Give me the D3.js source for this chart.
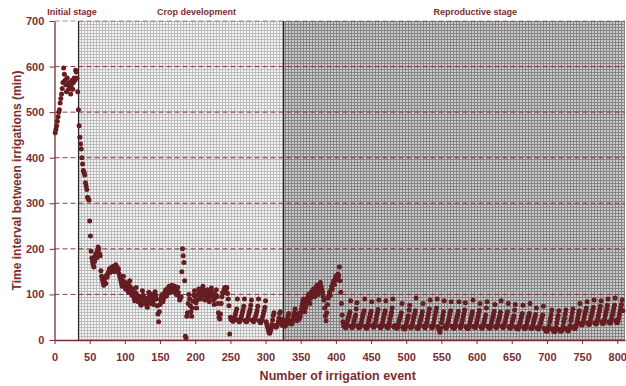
<!DOCTYPE html>
<html>
<head>
<meta charset="utf-8">
<script src="https://cdn.jsdelivr.net/npm/d3@7"></script>
<style>
  html, body { margin: 0; padding: 0; background: #fff; }
  svg { display: block; font-family: "Liberation Sans", Arial, sans-serif; }
</style>
</head>
<body>
<svg id="chart" width="626" height="386"></svg>
<script>
// Time interval between successive irrigation events (min), by crop stage.
const initialStage = [
  455, 462, 470, 480, 490, 500, 505, 520, 530, 540, 552, 565, 597, 583, 570, 560, 545,
  575, 560, 550, 565, 555, 540, 560, 570, 550, 565, 575, 570, 592, 588, 575, 545, 505
];

const cropDevelopment = [
  470, 445, 430, 419, 400, 386, 372, 368, 362, 345, 338, 330, 313, 310, 307,
  261, 228, 195, 180, 172, 165, 160, 172, 185, 190, 180, 196, 204, 200, 190, 185,
  152, 140, 133, 126, 120, 128, 136, 124, 142, 138,
  146, 150, 156, 148, 158, 152, 160, 155, 162, 150, 158, 165, 155, 160, 150, 156, 145,
  138, 132, 125, 118, 130, 140, 128, 120, 112,
  125, 118, 110, 104, 120, 130, 115, 105, 98,
  112, 100, 92, 86, 104, 115, 100, 90, 84,
  96, 88, 80, 76, 95, 108, 98, 88, 80,
  92, 86, 78, 72, 90, 105, 96, 86, 80,
  100, 92, 85, 78, 95, 106, 98, 90, 75,
  57, 40, 62, 78,
  88, 95, 100, 84, 90, 98, 104, 110, 96, 100, 108, 114, 118, 104, 110,
  116, 120, 112, 106, 115, 118, 108, 100, 112, 116, 104, 96, 88, 92, 95,
  150, 200, 185, 170, 130, 8, 5,
  52, 60, 80, 100, 90, 75, 62, 52, 70,
  85, 98, 108, 95, 82, 70, 88, 100, 112,
  104, 96, 90, 102, 112, 118, 108, 98, 88,
  95, 104, 110, 100, 92, 84, 96, 106, 114,
  105, 96, 88, 78, 92, 100, 110,
  95, 80, 60, 50, 46, 57, 80, 95, 104,
  103, 110, 115, 108, 112, 115, 102, 90, 75, 13, 50, 45,
  44, 42, 41, 44, 50, 56, 62, 68, 90,
  44, 41, 40, 43, 48, 54, 60, 66, 74, 90,
  43, 41, 40, 43, 49, 55, 61, 67, 76, 88,
  44, 42, 40, 42, 47, 53, 59, 65, 74, 90,
  42, 40, 38, 41, 46, 52, 58, 64, 72, 86,
  40, 34, 28, 22, 16, 15, 20, 26, 34, 44, 54, 60,
  32, 30, 28, 30, 34, 40, 48, 58, 62, 46, 36, 32, 45
];

const reproductiveStage = [
  38, 32, 30, 35, 40, 45, 52, 58, 40, 36, 42,
  35, 38, 45, 52, 60, 68, 55, 48, 42, 50, 58,
  46, 52, 60, 68, 76, 84, 90, 70, 62, 72, 80,
  86, 94, 100, 88, 80, 92, 105, 98, 108, 112, 100,
  95, 106, 115, 120, 108, 100, 112, 122, 126, 118, 110,
  104, 96, 88, 70, 53, 42, 60, 78, 92, 97, 104,
  98, 110, 118, 112, 125, 130, 122, 134, 140, 132, 138, 145, 141, 160,
  130, 105, 80, 55, 40, 31,
  31, 28, 27, 30, 36, 44, 50, 56, 62, 86,
  30, 27, 29, 35, 42, 49, 55, 68, 82,
  31, 28, 27, 28, 31, 38, 45, 52, 58, 64, 90,
  30, 27, 26, 30, 36, 43, 50, 57, 63, 84,
  32, 29, 28, 31, 38, 46, 53, 60, 67, 88,
  30, 28, 27, 30, 36, 44, 50, 57, 64, 86,
  31, 28, 27, 31, 38, 46, 54, 61, 70, 90,
  30, 28, 32,
  29, 27, 26, 29, 35, 42, 48, 54, 60, 80,
  28, 26, 25, 24, 28, 34, 41, 47, 53, 66, 76,
  29, 27, 30, 36, 44, 51, 57, 64, 92,
  28, 26, 26, 29, 35, 42, 49, 55, 62, 80,
  30, 28, 27, 31, 38, 46, 53, 60, 68, 88,
  30, 28, 27, 31, 38, 46, 54, 62, 70, 90,
  29, 26, 22, 17, 26, 38, 46, 54, 62, 86,
  30, 28, 26, 30, 36, 43, 50, 57, 64, 84,
  30,
  29, 27, 26, 29, 35, 43, 50, 56, 63, 84,
  30, 27, 29, 36, 44, 52, 58, 66, 82,
  29, 27, 26, 25, 28, 34, 41, 48, 55, 62, 88,
  30, 28, 27, 30, 36, 44, 51, 58, 65, 80,
  29, 27, 26, 29, 35, 42, 48, 55, 70, 84,
  30, 28, 27, 26, 30, 36, 43, 50, 56, 63, 78,
  29, 27, 29, 35, 42, 48, 54, 61, 86,
  30, 28, 27, 30, 36, 43, 50, 56, 62, 80,
  29, 27, 26, 29, 34, 41, 47, 53, 66, 78,
  28, 26, 25, 24, 28, 34, 40, 46, 52, 58, 76,
  28, 26, 25, 28, 33, 40, 46, 52, 58, 80,
  27, 25, 27, 32, 39, 45, 51, 56, 70,
  27, 25, 24, 27, 32, 38, 44, 50, 55, 74,
  26, 24,
  22, 20, 19, 21, 24, 30, 40, 48, 56, 66,
  24, 21, 19, 18, 21, 28, 38, 46, 54, 64,
  23, 20, 19, 21, 24, 30, 40, 48, 57, 66,
  25, 22, 20, 22, 26, 32, 42, 50, 59, 68,
  28, 26, 25, 28, 34, 42, 50, 57, 64, 80,
  36, 34, 33, 36, 42, 50, 57, 63, 70, 84,
  38, 35, 34, 37, 44, 52, 59, 66, 72, 88,
  38, 36, 35, 38, 45, 53, 60, 66, 74, 86,
  40, 37, 36, 39, 46, 54, 61, 68, 76, 90,
  40, 38, 37, 40, 47, 55, 62, 69, 76, 92,
  42, 39, 38, 41, 48, 56, 63, 70, 78, 88,
  64
];

const stageNames = ["Initial stage", "Crop development", "Reproductive stage"];
const xTicks = d3.range(0, 801, 50);
const yTicks = [0, 100, 200, 300, 400, 500, 600, 700];
const xMax = 811;
const yMax = 700;

const maroon = "#7a2e30";
const dotColor = "#651d21";

const svg = d3.select("#chart");
const margin = { left: 54.5, right: 1, top: 21, bottom: 46 };
const W = 626, H = 386;

const x = d3.scaleLinear().domain([0, xMax]).range([margin.left, W - margin.right]);
const y = d3.scaleLinear().domain([0, yMax]).range([H - margin.bottom, margin.top]);

// Event index for each interval, and the stage boundaries
const values = initialStage.concat(cropDevelopment, reproductiveStage);
const points = values.map((v, i) => ({ event: i + 1, value: v }));
const bound1 = initialStage.length + 0.2;
const bound2 = initialStage.length + cropDevelopment.length + 0.5;

// Graph-paper fills for the two later stages
const defs = svg.append("defs");
function gridPattern(id, bg, line) {
  const p = defs.append("pattern").attr("id", id)
    .attr("patternUnits", "userSpaceOnUse").attr("width", 3).attr("height", 3);
  p.append("rect").attr("width", 3).attr("height", 3).attr("fill", bg);
  p.append("rect").attr("width", 3).attr("height", 1).attr("fill", line);
  p.append("rect").attr("width", 1).attr("height", 3).attr("fill", line);
}
gridPattern("gridLight", "#f4f4f4", "#bdbdbd");
gridPattern("gridDark", "#cbcbcb", "#858585");

svg.append("rect")
  .attr("x", x(bound1)).attr("y", y(yMax))
  .attr("width", x(bound2) - x(bound1)).attr("height", y(0) - y(yMax))
  .attr("fill", "url(#gridLight)");
svg.append("rect")
  .attr("x", x(bound2)).attr("y", y(yMax))
  .attr("width", x(xMax) - x(bound2)).attr("height", y(0) - y(yMax))
  .attr("fill", "url(#gridDark)");

// Dashed horizontal gridlines
svg.append("g").selectAll("line")
  .data(yTicks.filter(d => d > 0))
  .join("line")
  .attr("x1", x(0)).attr("x2", x(xMax))
  .attr("y1", d => y(d)).attr("y2", d => y(d))
  .attr("stroke", maroon)
  .attr("stroke-width", 1)
  .attr("stroke-dasharray", "5,3")
  .attr("opacity", d => d === yMax ? 0.55 : 0.9);

// Stage separators
svg.append("g").selectAll("line")
  .data([bound1, bound2])
  .join("line")
  .attr("x1", d => x(d)).attr("x2", d => x(d))
  .attr("y1", y(yMax)).attr("y2", y(0))
  .attr("stroke", "#2a2a2a").attr("stroke-width", 1.3);

// Axes
const xAxis = d3.axisBottom(x).tickValues(xTicks).tickSize(4).tickSizeOuter(0);
const yAxis = d3.axisLeft(y).tickValues(yTicks).tickSize(5).tickSizeOuter(0);

const gx = svg.append("g").attr("transform", `translate(0,${y(0)})`).call(xAxis);
const gy = svg.append("g").attr("transform", `translate(${x(0)},0)`).call(yAxis);

[gx, gy].forEach(g => {
  g.select(".domain").attr("stroke", maroon).attr("stroke-width", 1.3);
  g.selectAll(".tick line").attr("stroke", maroon);
  g.selectAll(".tick text")
    .attr("fill", maroon)
    .attr("font-size", 11)
    .attr("font-weight", "bold")
    .attr("font-family", "'Liberation Sans', Arial, sans-serif");
});
gx.selectAll(".tick text").attr("dy", "1.25em");
gy.selectAll(".tick text").attr("dx", "-0.2em");

// Data points
svg.append("g").selectAll("circle")
  .data(points)
  .join("circle")
  .attr("cx", d => x(d.event))
  .attr("cy", d => y(d.value))
  .attr("r", 2.5)
  .attr("fill", dotColor);

// Axis titles
svg.append("text")
  .attr("x", (x(0) + x(xMax)) / 2 - 2).attr("y", 380)
  .attr("text-anchor", "middle")
  .attr("font-size", 12.5).attr("font-weight", "bold")
  .attr("fill", maroon)
  .text("Number of irrigation event");

svg.append("text")
  .attr("transform", `translate(21,${(y(0) + y(yMax)) / 2}) rotate(-90)`)
  .attr("text-anchor", "middle")
  .attr("font-size", 12).attr("font-weight", "bold")
  .attr("fill", maroon)
  .text("Time interval between irrigations (min)");

// Stage labels, anchored along the event axis
const stageLabelAt = [25, 202, 598];
svg.append("g").selectAll("text")
  .data(stageNames)
  .join("text")
  .attr("x", (d, i) => x(stageLabelAt[i]))
  .attr("y", 15)
  .attr("text-anchor", "middle")
  .attr("font-size", 9)
  .attr("font-weight", "bold")
  .attr("fill", maroon)
  .text(d => d);
</script>
</body>
</html>
